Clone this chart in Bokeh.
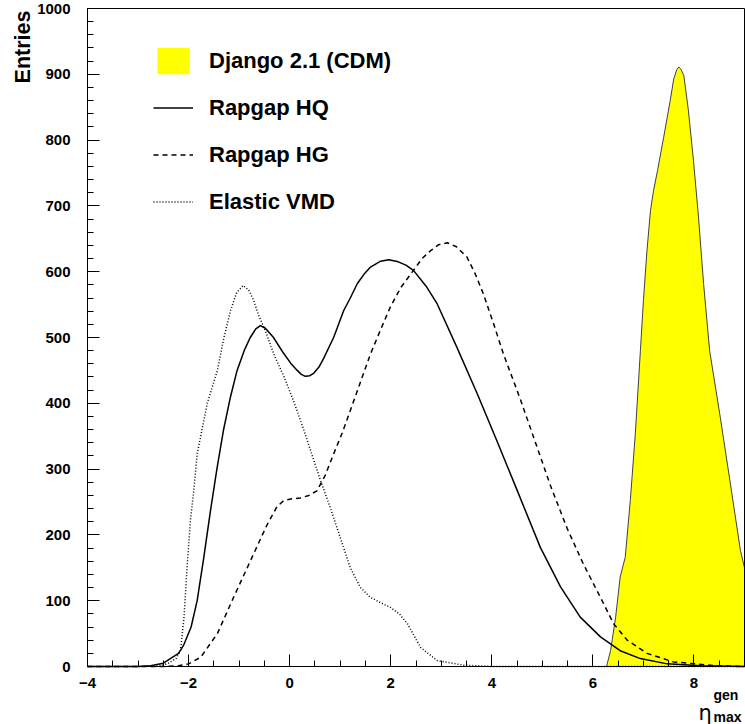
import math
from bokeh.plotting import figure
from bokeh.models import (Range1d, SingleIntervalTicker, FixedTicker, Label, Legend,
                          LegendItem, LinearAxis)
from bokeh.embed import file_html
from bokeh.resources import INLINE

# ---- data ----
hq_x = [-4, -3, -2.75, -2.5, -2.36, -2.2, -2.1, -1.95, -1.83, -1.7, -1.57, -1.44, -1.31,
        -1.17, -1.04, -0.9, -0.78, -0.67, -0.58, -0.48, -0.32, -0.12, 0.02, 0.15, 0.23,
        0.31, 0.4, 0.48, 0.58, 0.67, 0.87, 1.07, 1.2, 1.34, 1.47, 1.6, 1.8, 1.96, 2.15,
        2.3, 2.45, 2.7, 2.92, 3.31, 3.71, 4.1, 4.5, 4.96, 5.36, 5.75, 6.15, 6.54, 6.94,
        7.47, 8.13, 9]
hq_y = [0, 0, 1, 5, 12, 20, 32, 60, 100, 165, 235, 300, 359,
        410, 450, 480, 500, 513, 518, 514, 500, 476, 461, 450, 444,
        441, 442, 446, 455, 468, 500, 541, 560, 582, 596, 607, 616, 618, 615,
        610, 602, 578, 551, 485, 415, 343, 268, 181, 121, 75, 45, 24, 12,
        4, 1, 0]

hg_x = [-4, -2.5, -2.2, -2.0, -1.76, -1.43, -1.11, -0.78, -0.45, -0.25, -0.12, 0.05,
        0.21, 0.38, 0.54, 0.7, 0.87, 1.04, 1.2, 1.4, 1.6, 1.8, 1.99, 2.2, 2.45, 2.62,
        2.79, 2.95, 3.12, 3.3, 3.51, 3.67, 3.83, 4.03, 4.23, 4.4, 4.57, 4.82, 5.16,
        5.49, 5.81, 6.15, 6.41, 6.68, 7.07, 7.59, 8.46, 9]
hg_y = [0, 0, 1, 4, 14, 50, 105, 160, 215, 243, 252, 255,
        256, 260, 267, 290, 323, 355, 389, 432, 475, 512, 546, 576, 602, 620,
        632, 641, 644, 638, 622, 597, 567, 522, 475, 440, 405, 350, 275,
        210, 156, 105, 65, 40, 20, 7, 1, 0]

vmd_x = [-4, -3, -2.56, -2.4, -2.25, -2.16, -2.09, -2.03, -1.96, -1.9, -1.83, -1.63,
         -1.43, -1.3, -1.17, -1.05, -0.92, -0.81, -0.71, -0.62, -0.48, -0.3, -0.12,
         0.07, 0.27, 0.44, 0.61, 0.81, 0.94, 1.2, 1.4, 1.6, 1.8, 1.99, 2.17, 2.33,
         2.59, 2.92, 3.44, 4, 9]
vmd_y = [0, 0, 1, 5, 12, 24, 75, 151, 225, 265, 323, 400,
         450, 500, 541, 568, 579, 572, 556, 535, 510, 472, 442,
         405, 362, 322, 283, 240, 210, 150, 120, 105, 97, 90, 80, 65,
         29, 9, 2, 0, 0]

dj_x = [6.27, 6.35, 6.45, 6.54, 6.64, 6.74, 6.84, 6.94, 7.0, 7.07, 7.14, 7.2, 7.28,
        7.4, 7.53, 7.6, 7.66, 7.7, 7.74, 7.8, 7.89, 7.99, 8.09, 8.19, 8.31, 8.52,
        8.72, 8.92, 9.0]
dj_y = [0, 24, 75, 136, 166, 252, 354, 480, 556, 632, 693, 723, 754,
        804, 860, 893, 907, 911, 908, 898, 845, 769, 683, 582, 480, 379,
        278, 176, 150]

legend_labels = ["Django 2.1 (CDM)", "Rapgap HQ", "Rapgap HG", "Elastic VMD"]

X_MIN, X_MAX = -4, 9
Y_MIN, Y_MAX = 0, 1000

FONT = "Liberation Sans"

# frame covers the whole canvas; axes are fixed at the data-box edges
W, H = 745, 724
BOX_L, BOX_R, BOX_T, BOX_B = 87, 744, 8, 666
kx = (BOX_R - BOX_L) / (X_MAX - X_MIN)
ky = (BOX_B - BOX_T) / (Y_MAX - Y_MIN)
x_range = Range1d(X_MIN - BOX_L / kx, X_MAX + (W - BOX_R) / kx)
y_range = Range1d(Y_MIN - (H - BOX_B) / ky, Y_MAX + BOX_T / ky)

p = figure(width=W, height=H, output_backend="svg", toolbar_location=None,
           x_range=x_range, y_range=y_range)
p.min_border = 0
p.min_border_left = 0
p.min_border_right = 0
p.min_border_top = 0
p.min_border_bottom = 0
p.xgrid.visible = False
p.ygrid.visible = False
p.outline_line_color = None
p.background_fill_color = "white"
p.border_fill_color = "white"

xa = p.xaxis[0]
ya = p.yaxis[0]
xa.fixed_location = Y_MIN
ya.fixed_location = X_MIN
xa.bounds = (X_MIN, X_MAX)
ya.bounds = (Y_MIN, Y_MAX)
for ax in (xa, ya):
    ax.major_tick_in = 12
    ax.major_tick_out = 0
    ax.minor_tick_in = 6
    ax.minor_tick_out = 0
    ax.axis_line_color = "black"
    ax.axis_line_width = 1
    ax.major_tick_line_color = "black"
    ax.minor_tick_line_color = "black"
    ax.major_label_text_font = FONT
    ax.major_label_text_font_style = "bold"
    ax.major_label_text_font_size = "15px"
    ax.major_label_text_color = "black"

xa.ticker = SingleIntervalTicker(interval=2, num_minor_ticks=4)
ya.ticker = SingleIntervalTicker(interval=100, num_minor_ticks=5)
xa.major_label_standoff = 11
ya.major_label_standoff = 17

# top and right edges of the box
top_ax = LinearAxis(fixed_location=Y_MAX, bounds=(X_MIN, X_MAX), ticker=FixedTicker(ticks=[]),
                    major_tick_in=0, major_tick_out=0, minor_tick_in=0, minor_tick_out=0,
                    major_label_standoff=0, major_label_text_color=None,
                    axis_line_color="black")
right_ax = LinearAxis(fixed_location=X_MAX, bounds=(Y_MIN, Y_MAX), ticker=FixedTicker(ticks=[]),
                      major_tick_in=0, major_tick_out=0, minor_tick_in=0, minor_tick_out=0,
                      major_label_standoff=0, major_label_text_color=None,
                      axis_line_color="black")
p.add_layout(top_ax, "above")
p.add_layout(right_ax, "right")

dj_area = p.varea(x=dj_x, y1=0, y2=dj_y, fill_color="#ffff00")
p.line(x=dj_x, y=dj_y, line_color="#404040", line_width=1)
r_hq = p.line(x=hq_x, y=hq_y, line_color="black", line_width=1.5)
r_hg = p.line(x=hg_x, y=hg_y, line_color="black", line_width=1.5, line_dash="5 4")
r_vmd = p.line(x=vmd_x, y=vmd_y, line_color="black", line_width=1.5, line_dash="1 2")

legend = Legend(items=[LegendItem(label=legend_labels[0], renderers=[dj_area]),
                       LegendItem(label=legend_labels[1], renderers=[r_hq]),
                       LegendItem(label=legend_labels[2], renderers=[r_hg]),
                       LegendItem(label=legend_labels[3], renderers=[r_vmd])],
                location=(153, 506))
legend.glyph_width = 40
legend.glyph_height = 33
legend.spacing = 14
legend.label_standoff = 16
legend.padding = 0
legend.margin = 0
legend.border_line_color = None
legend.background_fill_alpha = 0
legend.label_text_font = FONT
legend.label_text_font_style = "bold"
legend.label_text_font_size = "22px"
legend.label_text_color = "black"
p.add_layout(legend, "center")

# axis titles (positions in pixels of the canvas converted to data space)
def dx(px):
    return X_MIN + (px - BOX_L) / kx

def dy(py):
    return Y_MIN + (BOX_B - py) / ky

p.add_layout(Label(x=dx(22), y=dy(10), text="Entries", angle=math.pi / 2,
                   text_align="right", text_baseline="alphabetic", text_color="black",
                   text_font=FONT, text_font_style="bold", text_font_size="21.5px"))
p.add_layout(Label(x=dx(698), y=dy(712), text="\u03b7", text_align="left",
                   text_baseline="alphabetic", text_font="DejaVu Sans", text_color="black",
                   text_font_size="21px"))
p.add_layout(Label(x=dx(713), y=dy(694), text="gen", text_align="left",
                   text_baseline="alphabetic", text_font=FONT, text_color="black",
                   text_font_style="bold", text_font_size="14px"))
p.add_layout(Label(x=dx(713), y=dy(716), text="max", text_align="left",
                   text_baseline="alphabetic", text_font=FONT, text_color="black",
                   text_font_style="bold", text_font_size="14px"))

open("out.html", "w").write(file_html(p, INLINE))
